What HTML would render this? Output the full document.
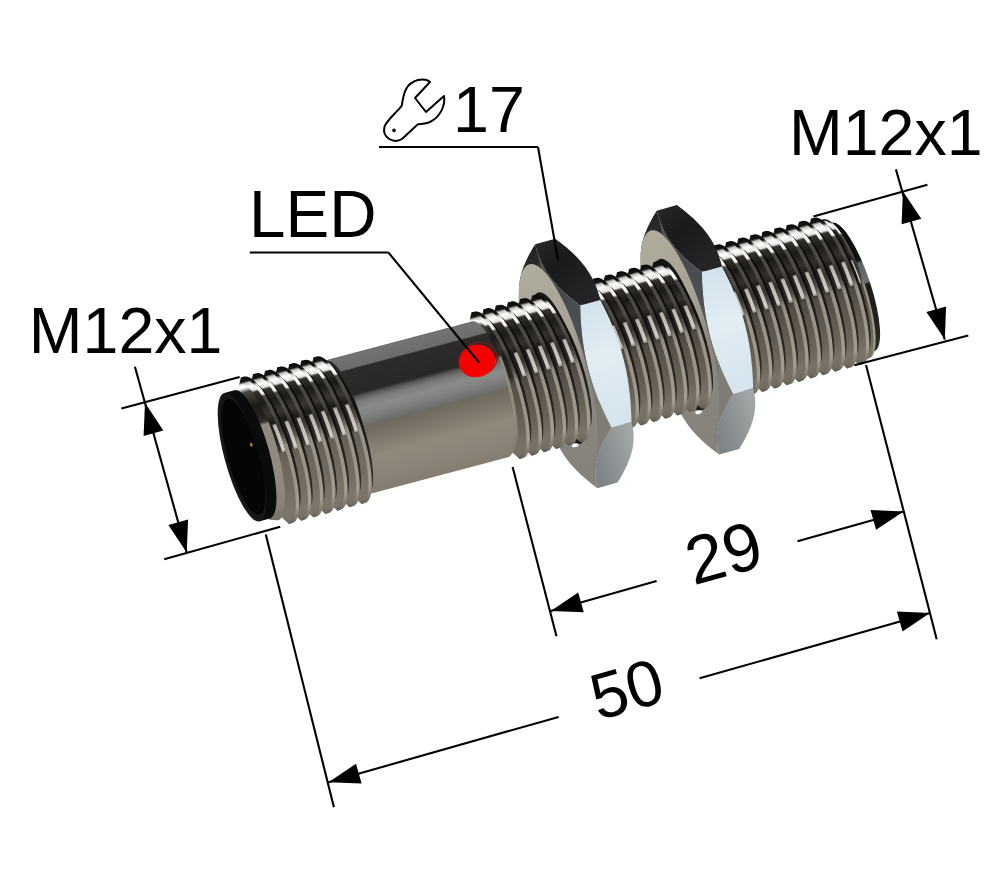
<!DOCTYPE html>
<html><head><meta charset="utf-8"><title>Sensor M12x1</title>
<style>
html,body{margin:0;padding:0;background:#fff;}
body{width:1000px;height:888px;overflow:hidden;font-family:"Liberation Sans",sans-serif;}
svg{display:block}
svg text{font-family:"Liberation Sans",sans-serif;fill:#000}
</style></head><body>
<svg width="1000" height="888" viewBox="0 0 1000 888">
<defs>
<linearGradient id="gL" gradientUnits="userSpaceOnUse" x1="0" y1="-77" x2="0" y2="77"><stop offset="0" stop-color="#0e0d0c"/><stop offset="0.03" stop-color="#161412"/><stop offset="0.045" stop-color="#c9c6c1"/><stop offset="0.07" stop-color="#ffffff"/><stop offset="0.1" stop-color="#e8e5e0"/><stop offset="0.115" stop-color="#33302d"/><stop offset="0.19" stop-color="#1c1a18"/><stop offset="0.275" stop-color="#34312d"/><stop offset="0.33" stop-color="#1e1c1a"/><stop offset="0.4" stop-color="#262320"/><stop offset="0.47" stop-color="#2e2a27"/><stop offset="0.49" stop-color="#3f3a34"/><stop offset="0.515" stop-color="#514b43"/><stop offset="0.65" stop-color="#5d574e"/><stop offset="0.8" stop-color="#696359"/><stop offset="0.925" stop-color="#787267"/><stop offset="0.975" stop-color="#726c61"/><stop offset="1" stop-color="#5c564c"/></linearGradient>
<linearGradient id="gL2" gradientUnits="userSpaceOnUse" x1="0" y1="-77" x2="0" y2="77"><stop offset="0" stop-color="#0e0d0c"/><stop offset="0.03" stop-color="#161412"/><stop offset="0.045" stop-color="#c9c6c1"/><stop offset="0.07" stop-color="#ffffff"/><stop offset="0.1" stop-color="#e8e5e0"/><stop offset="0.115" stop-color="#33302d"/><stop offset="0.19" stop-color="#1c1a18"/><stop offset="0.275" stop-color="#3a3733"/><stop offset="0.33" stop-color="#1e1c1a"/><stop offset="0.4" stop-color="#262320"/><stop offset="0.47" stop-color="#2e2a27"/><stop offset="0.52" stop-color="#3a3632"/><stop offset="0.545" stop-color="#645e55"/><stop offset="0.65" stop-color="#6d675e"/><stop offset="0.8" stop-color="#736d63"/><stop offset="0.925" stop-color="#7c766b"/><stop offset="0.975" stop-color="#777166"/><stop offset="1" stop-color="#625c52"/></linearGradient>
<linearGradient id="gL3" gradientUnits="userSpaceOnUse" x1="0" y1="-77" x2="0" y2="77"><stop offset="0" stop-color="#1a1816"/><stop offset="0.015" stop-color="#d8d6d2"/><stop offset="0.07" stop-color="#ffffff"/><stop offset="0.1" stop-color="#4a4642"/><stop offset="0.2" stop-color="#1c1a18"/><stop offset="0.275" stop-color="#24211e"/><stop offset="0.315" stop-color="#34302c"/><stop offset="0.335" stop-color="#8f887c"/><stop offset="0.65" stop-color="#938c80"/><stop offset="0.85" stop-color="#8a8377"/><stop offset="1" stop-color="#6f695e"/></linearGradient>
<linearGradient id="gH2" gradientUnits="userSpaceOnUse" x1="0" y1="-77" x2="0" y2="77"><stop offset="0" stop-color="#000"/><stop offset="0.345" stop-color="#5a564f"/><stop offset="0.36" stop-color="#b8b4ac"/><stop offset="0.52" stop-color="#cfccc5"/><stop offset="0.54" stop-color="#a7a197"/><stop offset="1" stop-color="#000"/></linearGradient>
<linearGradient id="gH" gradientUnits="userSpaceOnUse" x1="0" y1="-77" x2="0" y2="77"><stop offset="0" stop-color="#000"/><stop offset="0.32" stop-color="#5a564f"/><stop offset="0.335" stop-color="#b8b4ac"/><stop offset="0.47" stop-color="#cfccc5"/><stop offset="0.485" stop-color="#a7a197"/><stop offset="1" stop-color="#000"/></linearGradient>
<linearGradient id="gE" gradientUnits="userSpaceOnUse" x1="0" y1="-69.5" x2="0" y2="69.5"><stop offset="0" stop-color="#0a0908"/><stop offset="0.325" stop-color="#121110"/><stop offset="0.35" stop-color="#63656a"/><stop offset="0.49" stop-color="#6d6f73"/><stop offset="0.51" stop-color="#1c1a18"/><stop offset="0.8" stop-color="#26221e"/><stop offset="1" stop-color="#2e2a25"/></linearGradient>
<linearGradient id="gR" gradientUnits="userSpaceOnUse" x1="0" y1="-77" x2="0" y2="77"><stop offset="0" stop-color="#0a0908"/><stop offset="0.05" stop-color="#1c1a18"/><stop offset="0.15" stop-color="#0c0b0a"/><stop offset="0.4" stop-color="#121110"/><stop offset="0.5" stop-color="#1a1715"/><stop offset="0.65" stop-color="#26221e"/><stop offset="0.85" stop-color="#2e2a25"/><stop offset="1" stop-color="#3a352f"/></linearGradient>
<linearGradient id="gC" gradientUnits="userSpaceOnUse" x1="0" y1="-77" x2="0" y2="77"><stop offset="0" stop-color="#0c0b0a"/><stop offset="0.05" stop-color="#141210"/><stop offset="0.07" stop-color="#d8d6d2"/><stop offset="0.1" stop-color="#ffffff"/><stop offset="0.14" stop-color="#f0eeea"/><stop offset="0.155" stop-color="#4a4642"/><stop offset="0.275" stop-color="#4f4b45"/><stop offset="0.375" stop-color="#36322e"/><stop offset="0.44" stop-color="#55504a"/><stop offset="0.5" stop-color="#8f897d"/><stop offset="0.55" stop-color="#9a9488"/><stop offset="0.7" stop-color="#9a9488"/><stop offset="0.9" stop-color="#a59f92"/><stop offset="1" stop-color="#6f695e"/></linearGradient>
<linearGradient id="gB" gradientUnits="userSpaceOnUse" x1="0" y1="-70.3" x2="0" y2="70.3"><stop offset="0" stop-color="#5e5e5e"/><stop offset="0.01" stop-color="#747474"/><stop offset="0.1" stop-color="#6c6c6b"/><stop offset="0.11" stop-color="#2e2c2a"/><stop offset="0.285" stop-color="#2a2826"/><stop offset="0.31" stop-color="#5a5957"/><stop offset="0.345" stop-color="#7a7a78"/><stop offset="0.4" stop-color="#8b8b89"/><stop offset="0.47" stop-color="#7c7c7a"/><stop offset="0.515" stop-color="#6e6e6c"/><stop offset="0.5275" stop-color="#6f695e"/><stop offset="0.6" stop-color="#7a7367"/><stop offset="0.75" stop-color="#8f887b"/><stop offset="0.9" stop-color="#8a8377"/><stop offset="1" stop-color="#837c6f"/></linearGradient>
<linearGradient id="gNc2" gradientUnits="userSpaceOnUse" x1="0" y1="-126.2" x2="0" y2="126.2"><stop offset="0" stop-color="#6a665c"/><stop offset="0.1" stop-color="#59564e"/><stop offset="0.2" stop-color="#464a4f"/><stop offset="0.42" stop-color="#4e5258"/><stop offset="0.55" stop-color="#6e6c65"/><stop offset="0.62" stop-color="#7d7b73"/><stop offset="1" stop-color="#807e76"/></linearGradient>
<linearGradient id="gNd2" gradientUnits="userSpaceOnUse" x1="454.5" y1="-126.2" x2="494.5" y2="-63.1"><stop offset="0" stop-color="#2a2a2c"/><stop offset="0.5" stop-color="#1a1a1c"/><stop offset="1" stop-color="#242426"/></linearGradient>
<linearGradient id="gNb2" gradientUnits="userSpaceOnUse" x1="0" y1="-63.1" x2="0" y2="63.1"><stop offset="0" stop-color="#cfdfea"/><stop offset="0.5" stop-color="#e2edf3"/><stop offset="1" stop-color="#d5e4ee"/></linearGradient>
<linearGradient id="gNg2" gradientUnits="userSpaceOnUse" x1="466.5" y1="0" x2="506.5" y2="0"><stop offset="0" stop-color="#7f8486"/><stop offset="0.5" stop-color="#8f9496"/><stop offset="1" stop-color="#a1a6a6"/></linearGradient>
<linearGradient id="gNl2" gradientUnits="userSpaceOnUse" x1="0" y1="-126.2" x2="0" y2="126.2"><stop offset="0" stop-color="#1e1e20"/><stop offset="0.08" stop-color="#2c2c2e"/><stop offset="0.16" stop-color="#6a675e"/><stop offset="0.25" stop-color="#8d8a7e"/><stop offset="1" stop-color="#85837a"/></linearGradient>
<linearGradient id="gNf2" gradientUnits="userSpaceOnUse" x1="0" y1="-108.199" x2="0" y2="108.199"><stop offset="0" stop-color="#b0ad9d"/><stop offset="0.35" stop-color="#a5a293"/><stop offset="0.55" stop-color="#8d8a82"/><stop offset="1" stop-color="#84827b"/></linearGradient>
<linearGradient id="gNc1" gradientUnits="userSpaceOnUse" x1="0" y1="-126.2" x2="0" y2="126.2"><stop offset="0" stop-color="#6a665c"/><stop offset="0.1" stop-color="#59564e"/><stop offset="0.2" stop-color="#464a4f"/><stop offset="0.42" stop-color="#4e5258"/><stop offset="0.55" stop-color="#6e6c65"/><stop offset="0.62" stop-color="#7d7b73"/><stop offset="1" stop-color="#807e76"/></linearGradient>
<linearGradient id="gNd1" gradientUnits="userSpaceOnUse" x1="328.3" y1="-126.2" x2="368.3" y2="-63.1"><stop offset="0" stop-color="#2a2a2c"/><stop offset="0.5" stop-color="#1a1a1c"/><stop offset="1" stop-color="#242426"/></linearGradient>
<linearGradient id="gNb1" gradientUnits="userSpaceOnUse" x1="0" y1="-63.1" x2="0" y2="63.1"><stop offset="0" stop-color="#cfdfea"/><stop offset="0.5" stop-color="#e2edf3"/><stop offset="1" stop-color="#d5e4ee"/></linearGradient>
<linearGradient id="gNg1" gradientUnits="userSpaceOnUse" x1="340.3" y1="0" x2="380.3" y2="0"><stop offset="0" stop-color="#7f8486"/><stop offset="0.5" stop-color="#8f9496"/><stop offset="1" stop-color="#a1a6a6"/></linearGradient>
<linearGradient id="gNl1" gradientUnits="userSpaceOnUse" x1="0" y1="-126.2" x2="0" y2="126.2"><stop offset="0" stop-color="#1e1e20"/><stop offset="0.08" stop-color="#2c2c2e"/><stop offset="0.16" stop-color="#6a675e"/><stop offset="0.25" stop-color="#8d8a7e"/><stop offset="1" stop-color="#85837a"/></linearGradient>
<linearGradient id="gNf1" gradientUnits="userSpaceOnUse" x1="0" y1="-108.199" x2="0" y2="108.199"><stop offset="0" stop-color="#b0ad9d"/><stop offset="0.35" stop-color="#a5a293"/><stop offset="0.55" stop-color="#8d8a82"/><stop offset="1" stop-color="#84827b"/></linearGradient>
</defs>
<rect width="1000" height="888" fill="#fff"/>
<g transform="translate(241.7,456) rotate(-15.46)">
<!-- main thread right of nut2 -->
<g transform="skewX(2.75)">
<path d="M627.40,-73.00 L634.30,-67.50 A17.55,67.50 0 0 1 634.30,67.50 L627.40,73.00 Z" fill="url(#gE)" />
<path d="M625.20,-73.00 L627.40,-73.00 A18.98,73.00 0 0 1 627.40,73.00 L625.20,73.00 Z" fill="url(#gC)" />
<path d="M622.80,-69.50 L625.20,-73.00 A18.98,73.00 0 0 1 625.20,73.00 L622.80,69.50 Z" fill="url(#gL)" />
<path d="M640.51,-26.28 L640.80,-23.18 L641.05,-20.08 L641.26,-16.97 L641.43,-13.87 L641.57,-10.77 L641.68,-7.66 L641.74,-4.56 L641.78,-1.46" fill="none" stroke="url(#gH)" stroke-width="3"/>
</g>
<g transform="skewX(2.75)">
<path d="M619.26,-77.00 L623.75,-69.50 A18.07,69.50 0 0 1 623.75,69.50 L619.26,77.00 Z" fill="url(#gR)" />
<path d="M615.66,-77.00 L619.26,-77.00 A20.02,77.00 0 0 1 619.26,77.00 L615.66,77.00 Z" fill="url(#gC)" />
<path d="M611.17,-69.50 L615.66,-77.00 A20.02,77.00 0 0 1 615.66,77.00 L611.17,69.50 Z" fill="url(#gL)" />
<path d="M632.25,-27.00 L632.55,-23.81 L632.81,-20.62 L633.03,-17.44 L633.20,-14.25 L633.35,-11.06 L633.45,-7.87 L633.52,-4.69 L633.56,-1.50" fill="none" stroke="url(#gH)" stroke-width="3.8"/>
<path d="M606.68,-77.00 L611.17,-69.50 A18.07,69.50 0 0 1 611.17,69.50 L606.68,77.00 Z" fill="url(#gR)" />
<path d="M603.08,-77.00 L606.68,-77.00 A20.02,77.00 0 0 1 606.68,77.00 L603.08,77.00 Z" fill="url(#gC)" />
<path d="M598.59,-69.50 L603.08,-77.00 A20.02,77.00 0 0 1 603.08,77.00 L598.59,69.50 Z" fill="url(#gL)" />
<path d="M619.67,-27.00 L619.97,-23.81 L620.23,-20.62 L620.45,-17.44 L620.62,-14.25 L620.77,-11.06 L620.87,-7.87 L620.94,-4.69 L620.98,-1.50" fill="none" stroke="url(#gH)" stroke-width="3.8"/>
<path d="M594.10,-77.00 L598.59,-69.50 A18.07,69.50 0 0 1 598.59,69.50 L594.10,77.00 Z" fill="url(#gR)" />
<path d="M590.50,-77.00 L594.10,-77.00 A20.02,77.00 0 0 1 594.10,77.00 L590.50,77.00 Z" fill="url(#gC)" />
<path d="M586.01,-69.50 L590.50,-77.00 A20.02,77.00 0 0 1 590.50,77.00 L586.01,69.50 Z" fill="url(#gL)" />
<path d="M607.09,-27.00 L607.39,-23.81 L607.65,-20.62 L607.87,-17.44 L608.04,-14.25 L608.19,-11.06 L608.29,-7.87 L608.36,-4.69 L608.40,-1.50" fill="none" stroke="url(#gH)" stroke-width="3.8"/>
<path d="M581.52,-77.00 L586.01,-69.50 A18.07,69.50 0 0 1 586.01,69.50 L581.52,77.00 Z" fill="url(#gR)" />
<path d="M577.92,-77.00 L581.52,-77.00 A20.02,77.00 0 0 1 581.52,77.00 L577.92,77.00 Z" fill="url(#gC)" />
<path d="M573.43,-69.50 L577.92,-77.00 A20.02,77.00 0 0 1 577.92,77.00 L573.43,69.50 Z" fill="url(#gL)" />
<path d="M594.51,-27.00 L594.81,-23.81 L595.07,-20.62 L595.29,-17.44 L595.46,-14.25 L595.61,-11.06 L595.71,-7.87 L595.78,-4.69 L595.82,-1.50" fill="none" stroke="url(#gH)" stroke-width="3.8"/>
<path d="M568.94,-77.00 L573.43,-69.50 A18.07,69.50 0 0 1 573.43,69.50 L568.94,77.00 Z" fill="url(#gR)" />
<path d="M565.34,-77.00 L568.94,-77.00 A20.02,77.00 0 0 1 568.94,77.00 L565.34,77.00 Z" fill="url(#gC)" />
<path d="M560.85,-69.50 L565.34,-77.00 A20.02,77.00 0 0 1 565.34,77.00 L560.85,69.50 Z" fill="url(#gL)" />
<path d="M581.93,-27.00 L582.23,-23.81 L582.49,-20.62 L582.71,-17.44 L582.88,-14.25 L583.03,-11.06 L583.13,-7.87 L583.20,-4.69 L583.24,-1.50" fill="none" stroke="url(#gH)" stroke-width="3.8"/>
<path d="M556.36,-77.00 L560.85,-69.50 A18.07,69.50 0 0 1 560.85,69.50 L556.36,77.00 Z" fill="url(#gR)" />
<path d="M552.76,-77.00 L556.36,-77.00 A20.02,77.00 0 0 1 556.36,77.00 L552.76,77.00 Z" fill="url(#gC)" />
<path d="M548.27,-69.50 L552.76,-77.00 A20.02,77.00 0 0 1 552.76,77.00 L548.27,69.50 Z" fill="url(#gL)" />
<path d="M569.35,-27.00 L569.65,-23.81 L569.91,-20.62 L570.13,-17.44 L570.30,-14.25 L570.45,-11.06 L570.55,-7.87 L570.62,-4.69 L570.66,-1.50" fill="none" stroke="url(#gH)" stroke-width="3.8"/>
<path d="M543.78,-77.00 L548.27,-69.50 A18.07,69.50 0 0 1 548.27,69.50 L543.78,77.00 Z" fill="url(#gR)" />
<path d="M540.18,-77.00 L543.78,-77.00 A20.02,77.00 0 0 1 543.78,77.00 L540.18,77.00 Z" fill="url(#gC)" />
<path d="M535.69,-69.50 L540.18,-77.00 A20.02,77.00 0 0 1 540.18,77.00 L535.69,69.50 Z" fill="url(#gL)" />
<path d="M556.77,-27.00 L557.07,-23.81 L557.33,-20.62 L557.55,-17.44 L557.72,-14.25 L557.87,-11.06 L557.97,-7.87 L558.04,-4.69 L558.08,-1.50" fill="none" stroke="url(#gH)" stroke-width="3.8"/>
<path d="M531.20,-77.00 L535.69,-69.50 A18.07,69.50 0 0 1 535.69,69.50 L531.20,77.00 Z" fill="url(#gR)" />
<path d="M527.60,-77.00 L531.20,-77.00 A20.02,77.00 0 0 1 531.20,77.00 L527.60,77.00 Z" fill="url(#gC)" />
<path d="M523.11,-69.50 L527.60,-77.00 A20.02,77.00 0 0 1 527.60,77.00 L523.11,69.50 Z" fill="url(#gL)" />
<path d="M544.19,-27.00 L544.49,-23.81 L544.75,-20.62 L544.97,-17.44 L545.14,-14.25 L545.29,-11.06 L545.39,-7.87 L545.46,-4.69 L545.50,-1.50" fill="none" stroke="url(#gH)" stroke-width="3.8"/>
<path d="M518.62,-77.00 L523.11,-69.50 A18.07,69.50 0 0 1 523.11,69.50 L518.62,77.00 Z" fill="url(#gR)" />
<path d="M515.02,-77.00 L518.62,-77.00 A20.02,77.00 0 0 1 518.62,77.00 L515.02,77.00 Z" fill="url(#gC)" />
<path d="M510.53,-69.50 L515.02,-77.00 A20.02,77.00 0 0 1 515.02,77.00 L510.53,69.50 Z" fill="url(#gL)" />
<path d="M531.61,-27.00 L531.91,-23.81 L532.17,-20.62 L532.39,-17.44 L532.56,-14.25 L532.71,-11.06 L532.81,-7.87 L532.88,-4.69 L532.92,-1.50" fill="none" stroke="url(#gH)" stroke-width="3.8"/>
<path d="M506.04,-77.00 L510.53,-69.50 A18.07,69.50 0 0 1 510.53,69.50 L506.04,77.00 Z" fill="url(#gR)" />
<path d="M502.44,-77.00 L506.04,-77.00 A20.02,77.00 0 0 1 506.04,77.00 L502.44,77.00 Z" fill="url(#gC)" />
<path d="M497.95,-69.50 L502.44,-77.00 A20.02,77.00 0 0 1 502.44,77.00 L497.95,69.50 Z" fill="url(#gL)" />
<path d="M519.03,-27.00 L519.33,-23.81 L519.59,-20.62 L519.81,-17.44 L519.98,-14.25 L520.13,-11.06 L520.23,-7.87 L520.30,-4.69 L520.34,-1.50" fill="none" stroke="url(#gH)" stroke-width="3.8"/>
</g>
<path d="M465.42,-125.84 L465.37,-119.92 L465.67,-113.99 L466.35,-108.07 L467.45,-102.14 L469.01,-96.21 L471.03,-90.29 L473.52,-84.36 L476.49,-78.43 L479.90,-72.51 L483.74,-66.58 L487.96,-60.65 L492.53,-54.73 L513.41,-54.73 L513.46,-60.65 L513.16,-66.58 L512.48,-72.51 L511.37,-78.43 L509.82,-84.36 L507.80,-90.29 L505.30,-96.21 L502.34,-102.14 L498.93,-108.07 L495.09,-113.99 L490.87,-119.92 L486.30,-125.84 Z" fill="url(#gNd2)" />
<path d="M492.53,-54.73 L490.01,-44.24 L487.84,-33.75 L486.06,-23.27 L484.70,-12.78 L483.79,-2.29 L483.35,8.19 L483.38,18.68 L483.88,29.17 L484.83,39.66 L486.20,50.14 L487.96,60.63 L490.07,71.12 L510.95,71.12 L513.46,60.63 L515.63,50.14 L517.41,39.66 L518.77,29.17 L519.68,18.68 L520.12,8.19 L520.09,-2.29 L519.59,-12.78 L518.64,-23.27 L517.27,-33.75 L515.51,-44.24 L513.41,-54.73 Z" fill="url(#gNb2)" />
<path d="M490.07,71.12 L485.29,75.68 L480.87,80.24 L476.83,84.80 L473.21,89.36 L470.04,93.92 L467.34,98.48 L465.11,103.04 L463.35,107.60 L462.04,112.16 L461.15,116.72 L460.65,121.28 L460.50,125.84 L481.38,125.84 L486.15,121.28 L490.58,116.72 L494.62,112.16 L498.24,107.60 L501.41,103.04 L504.11,98.48 L506.34,93.92 L508.09,89.36 L509.40,84.80 L510.29,80.24 L510.79,75.68 L510.95,71.12 Z" fill="url(#gNg2)" />
<path d="M465.42,-125.84 L465.37,-119.92 L465.67,-113.99 L466.35,-108.07 L467.45,-102.14 L469.01,-96.21 L471.03,-90.29 L473.52,-84.36 L476.49,-78.43 L479.90,-72.51 L483.74,-66.58 L487.96,-60.65 L492.53,-54.73 L492.53,-54.73 L490.01,-44.24 L487.84,-33.75 L486.06,-23.27 L484.70,-12.78 L483.79,-2.29 L483.35,8.19 L483.38,18.68 L483.88,29.17 L484.83,39.66 L486.20,50.14 L487.96,60.63 L490.07,71.12 L490.07,71.12 L485.29,75.68 L480.87,80.24 L476.83,84.80 L473.21,89.36 L470.04,93.92 L467.34,98.48 L465.11,103.04 L463.35,107.60 L462.04,112.16 L461.15,116.72 L460.65,121.28 L460.50,125.84 L460.50,125.84 L455.93,119.92 L451.71,113.99 L447.87,108.07 L444.46,102.14 L441.50,96.21 L439.00,90.29 L436.98,84.36 L435.43,78.43 L434.32,72.51 L433.64,66.58 L433.34,60.65 L433.39,54.73 L433.39,54.73 L431.29,44.24 L429.53,33.75 L428.16,23.27 L427.21,12.78 L426.71,2.29 L426.68,-8.19 L427.12,-18.68 L428.03,-29.17 L429.39,-39.66 L431.17,-50.14 L433.34,-60.63 L435.85,-71.12 L435.85,-71.12 L436.01,-75.68 L436.51,-80.24 L437.40,-84.80 L438.71,-89.36 L440.46,-93.92 L442.69,-98.48 L445.39,-103.04 L448.56,-107.60 L452.18,-112.16 L456.22,-116.72 L460.65,-121.28 L465.42,-125.84 Z" fill="url(#gNl2)" />
<path d="M465.42,-125.84 L465.37,-119.92 L465.67,-113.99 L466.35,-108.07 L467.45,-102.14 L469.01,-96.21 L471.03,-90.29 L473.52,-84.36 L476.49,-78.43 L479.90,-72.51 L483.74,-66.58 L487.96,-60.65 L492.53,-54.73 L492.53,-54.73 L490.01,-44.24 L487.84,-33.75 L486.06,-23.27 L484.70,-12.78 L483.79,-2.29 L483.35,8.19 L483.38,18.68 L483.88,29.17 L484.83,39.66 L486.20,50.14 L487.96,60.63 L490.07,71.12 L490.07,71.12 L485.29,75.68 L480.87,80.24 L476.83,84.80 L473.21,89.36 L470.04,93.92 L467.34,98.48 L465.11,103.04 L463.35,107.60 L462.04,112.16 L461.15,116.72 L460.65,121.28 L460.50,125.84 Z" fill="url(#gNc2)" />
<ellipse cx="454.50" cy="0" rx="28.13" ry="108.20" fill="url(#gNf2)" />
<ellipse cx="455.50" cy="0" rx="20.41" ry="78.50" fill="#1a1816" />
<!-- thread between nuts -->
<g transform="skewX(2.75)">
<path d="M455.72,-77.00 L460.21,-69.50 A18.07,69.50 0 0 1 460.21,69.50 L455.72,77.00 Z" fill="url(#gR)" />
<path d="M452.12,-77.00 L455.72,-77.00 A20.02,77.00 0 0 1 455.72,77.00 L452.12,77.00 Z" fill="url(#gC)" />
<path d="M447.63,-69.50 L452.12,-77.00 A20.02,77.00 0 0 1 452.12,77.00 L447.63,69.50 Z" fill="url(#gL)" />
<path d="M468.71,-27.00 L469.01,-23.81 L469.27,-20.62 L469.49,-17.44 L469.66,-14.25 L469.81,-11.06 L469.91,-7.87 L469.98,-4.69 L470.02,-1.50" fill="none" stroke="url(#gH)" stroke-width="3.8"/>
<path d="M443.14,-77.00 L447.63,-69.50 A18.07,69.50 0 0 1 447.63,69.50 L443.14,77.00 Z" fill="url(#gR)" />
<path d="M439.54,-77.00 L443.14,-77.00 A20.02,77.00 0 0 1 443.14,77.00 L439.54,77.00 Z" fill="url(#gC)" />
<path d="M435.05,-69.50 L439.54,-77.00 A20.02,77.00 0 0 1 439.54,77.00 L435.05,69.50 Z" fill="url(#gL)" />
<path d="M456.13,-27.00 L456.43,-23.81 L456.69,-20.62 L456.91,-17.44 L457.08,-14.25 L457.23,-11.06 L457.33,-7.87 L457.40,-4.69 L457.44,-1.50" fill="none" stroke="url(#gH)" stroke-width="3.8"/>
<path d="M430.56,-77.00 L435.05,-69.50 A18.07,69.50 0 0 1 435.05,69.50 L430.56,77.00 Z" fill="url(#gR)" />
<path d="M426.96,-77.00 L430.56,-77.00 A20.02,77.00 0 0 1 430.56,77.00 L426.96,77.00 Z" fill="url(#gC)" />
<path d="M422.47,-69.50 L426.96,-77.00 A20.02,77.00 0 0 1 426.96,77.00 L422.47,69.50 Z" fill="url(#gL)" />
<path d="M443.55,-27.00 L443.85,-23.81 L444.11,-20.62 L444.33,-17.44 L444.50,-14.25 L444.65,-11.06 L444.75,-7.87 L444.82,-4.69 L444.86,-1.50" fill="none" stroke="url(#gH)" stroke-width="3.8"/>
<path d="M417.98,-77.00 L422.47,-69.50 A18.07,69.50 0 0 1 422.47,69.50 L417.98,77.00 Z" fill="url(#gR)" />
<path d="M414.38,-77.00 L417.98,-77.00 A20.02,77.00 0 0 1 417.98,77.00 L414.38,77.00 Z" fill="url(#gC)" />
<path d="M409.89,-69.50 L414.38,-77.00 A20.02,77.00 0 0 1 414.38,77.00 L409.89,69.50 Z" fill="url(#gL)" />
<path d="M430.97,-27.00 L431.27,-23.81 L431.53,-20.62 L431.75,-17.44 L431.92,-14.25 L432.07,-11.06 L432.17,-7.87 L432.24,-4.69 L432.28,-1.50" fill="none" stroke="url(#gH)" stroke-width="3.8"/>
<path d="M405.40,-77.00 L409.89,-69.50 A18.07,69.50 0 0 1 409.89,69.50 L405.40,77.00 Z" fill="url(#gR)" />
<path d="M401.80,-77.00 L405.40,-77.00 A20.02,77.00 0 0 1 405.40,77.00 L401.80,77.00 Z" fill="url(#gC)" />
<path d="M397.31,-69.50 L401.80,-77.00 A20.02,77.00 0 0 1 401.80,77.00 L397.31,69.50 Z" fill="url(#gL)" />
<path d="M418.39,-27.00 L418.69,-23.81 L418.95,-20.62 L419.17,-17.44 L419.34,-14.25 L419.49,-11.06 L419.59,-7.87 L419.66,-4.69 L419.70,-1.50" fill="none" stroke="url(#gH)" stroke-width="3.8"/>
<path d="M392.82,-77.00 L397.31,-69.50 A18.07,69.50 0 0 1 397.31,69.50 L392.82,77.00 Z" fill="url(#gR)" />
<path d="M389.22,-77.00 L392.82,-77.00 A20.02,77.00 0 0 1 392.82,77.00 L389.22,77.00 Z" fill="url(#gC)" />
<path d="M384.73,-69.50 L389.22,-77.00 A20.02,77.00 0 0 1 389.22,77.00 L384.73,69.50 Z" fill="url(#gL)" />
<path d="M405.81,-27.00 L406.11,-23.81 L406.37,-20.62 L406.59,-17.44 L406.76,-14.25 L406.91,-11.06 L407.01,-7.87 L407.08,-4.69 L407.12,-1.50" fill="none" stroke="url(#gH)" stroke-width="3.8"/>
<path d="M380.24,-77.00 L384.73,-69.50 A18.07,69.50 0 0 1 384.73,69.50 L380.24,77.00 Z" fill="url(#gR)" />
<path d="M376.64,-77.00 L380.24,-77.00 A20.02,77.00 0 0 1 380.24,77.00 L376.64,77.00 Z" fill="url(#gC)" />
<path d="M372.15,-69.50 L376.64,-77.00 A20.02,77.00 0 0 1 376.64,77.00 L372.15,69.50 Z" fill="url(#gL)" />
<path d="M393.23,-27.00 L393.53,-23.81 L393.79,-20.62 L394.01,-17.44 L394.18,-14.25 L394.33,-11.06 L394.43,-7.87 L394.50,-4.69 L394.54,-1.50" fill="none" stroke="url(#gH)" stroke-width="3.8"/>
</g>
<ellipse cx="452.04" cy="79.58" rx="3.4" ry="1.8" fill="#fff"/>
<path d="M339.22,-125.84 L339.17,-119.92 L339.47,-113.99 L340.15,-108.07 L341.25,-102.14 L342.81,-96.21 L344.83,-90.29 L347.32,-84.36 L350.29,-78.43 L353.70,-72.51 L357.54,-66.58 L361.76,-60.65 L366.33,-54.73 L387.21,-54.73 L387.26,-60.65 L386.96,-66.58 L386.28,-72.51 L385.17,-78.43 L383.62,-84.36 L381.60,-90.29 L379.10,-96.21 L376.14,-102.14 L372.73,-108.07 L368.89,-113.99 L364.67,-119.92 L360.10,-125.84 Z" fill="url(#gNd1)" />
<path d="M366.33,-54.73 L363.81,-44.24 L361.64,-33.75 L359.86,-23.27 L358.50,-12.78 L357.59,-2.29 L357.15,8.19 L357.18,18.68 L357.68,29.17 L358.63,39.66 L360.00,50.14 L361.76,60.63 L363.87,71.12 L384.75,71.12 L387.26,60.63 L389.43,50.14 L391.21,39.66 L392.57,29.17 L393.48,18.68 L393.92,8.19 L393.89,-2.29 L393.39,-12.78 L392.44,-23.27 L391.07,-33.75 L389.31,-44.24 L387.21,-54.73 Z" fill="url(#gNb1)" />
<path d="M363.87,71.12 L359.09,75.68 L354.67,80.24 L350.63,84.80 L347.01,89.36 L343.84,93.92 L341.14,98.48 L338.91,103.04 L337.15,107.60 L335.84,112.16 L334.95,116.72 L334.45,121.28 L334.30,125.84 L355.18,125.84 L359.95,121.28 L364.38,116.72 L368.42,112.16 L372.04,107.60 L375.21,103.04 L377.91,98.48 L380.14,93.92 L381.89,89.36 L383.20,84.80 L384.09,80.24 L384.59,75.68 L384.75,71.12 Z" fill="url(#gNg1)" />
<path d="M339.22,-125.84 L339.17,-119.92 L339.47,-113.99 L340.15,-108.07 L341.25,-102.14 L342.81,-96.21 L344.83,-90.29 L347.32,-84.36 L350.29,-78.43 L353.70,-72.51 L357.54,-66.58 L361.76,-60.65 L366.33,-54.73 L366.33,-54.73 L363.81,-44.24 L361.64,-33.75 L359.86,-23.27 L358.50,-12.78 L357.59,-2.29 L357.15,8.19 L357.18,18.68 L357.68,29.17 L358.63,39.66 L360.00,50.14 L361.76,60.63 L363.87,71.12 L363.87,71.12 L359.09,75.68 L354.67,80.24 L350.63,84.80 L347.01,89.36 L343.84,93.92 L341.14,98.48 L338.91,103.04 L337.15,107.60 L335.84,112.16 L334.95,116.72 L334.45,121.28 L334.30,125.84 L334.30,125.84 L329.73,119.92 L325.51,113.99 L321.67,108.07 L318.26,102.14 L315.30,96.21 L312.80,90.29 L310.78,84.36 L309.23,78.43 L308.12,72.51 L307.44,66.58 L307.14,60.65 L307.19,54.73 L307.19,54.73 L305.09,44.24 L303.33,33.75 L301.96,23.27 L301.01,12.78 L300.51,2.29 L300.48,-8.19 L300.92,-18.68 L301.83,-29.17 L303.19,-39.66 L304.97,-50.14 L307.14,-60.63 L309.65,-71.12 L309.65,-71.12 L309.81,-75.68 L310.31,-80.24 L311.20,-84.80 L312.51,-89.36 L314.26,-93.92 L316.49,-98.48 L319.19,-103.04 L322.36,-107.60 L325.98,-112.16 L330.02,-116.72 L334.45,-121.28 L339.22,-125.84 Z" fill="url(#gNl1)" />
<path d="M339.22,-125.84 L339.17,-119.92 L339.47,-113.99 L340.15,-108.07 L341.25,-102.14 L342.81,-96.21 L344.83,-90.29 L347.32,-84.36 L350.29,-78.43 L353.70,-72.51 L357.54,-66.58 L361.76,-60.65 L366.33,-54.73 L366.33,-54.73 L363.81,-44.24 L361.64,-33.75 L359.86,-23.27 L358.50,-12.78 L357.59,-2.29 L357.15,8.19 L357.18,18.68 L357.68,29.17 L358.63,39.66 L360.00,50.14 L361.76,60.63 L363.87,71.12 L363.87,71.12 L359.09,75.68 L354.67,80.24 L350.63,84.80 L347.01,89.36 L343.84,93.92 L341.14,98.48 L338.91,103.04 L337.15,107.60 L335.84,112.16 L334.95,116.72 L334.45,121.28 L334.30,125.84 Z" fill="url(#gNc1)" />
<ellipse cx="328.30" cy="0" rx="28.13" ry="108.20" fill="url(#gNf1)" />
<ellipse cx="329.30" cy="0" rx="20.41" ry="78.50" fill="#1a1816" />
<!-- thread left of nut1 -->
<g transform="skewX(2.75)">
<path d="M329.92,-77.00 L334.41,-69.50 A18.07,69.50 0 0 1 334.41,69.50 L329.92,77.00 Z" fill="url(#gR)" />
<path d="M326.32,-77.00 L329.92,-77.00 A20.02,77.00 0 0 1 329.92,77.00 L326.32,77.00 Z" fill="url(#gC)" />
<path d="M321.83,-69.50 L326.32,-77.00 A20.02,77.00 0 0 1 326.32,77.00 L321.83,69.50 Z" fill="url(#gL)" />
<path d="M342.91,-27.00 L343.21,-23.81 L343.47,-20.62 L343.69,-17.44 L343.86,-14.25 L344.01,-11.06 L344.11,-7.87 L344.18,-4.69 L344.22,-1.50" fill="none" stroke="url(#gH)" stroke-width="3.8"/>
<path d="M317.34,-77.00 L321.83,-69.50 A18.07,69.50 0 0 1 321.83,69.50 L317.34,77.00 Z" fill="url(#gR)" />
<path d="M313.74,-77.00 L317.34,-77.00 A20.02,77.00 0 0 1 317.34,77.00 L313.74,77.00 Z" fill="url(#gC)" />
<path d="M309.25,-69.50 L313.74,-77.00 A20.02,77.00 0 0 1 313.74,77.00 L309.25,69.50 Z" fill="url(#gL)" />
<path d="M330.33,-27.00 L330.63,-23.81 L330.89,-20.62 L331.11,-17.44 L331.28,-14.25 L331.43,-11.06 L331.53,-7.87 L331.60,-4.69 L331.64,-1.50" fill="none" stroke="url(#gH)" stroke-width="3.8"/>
<path d="M304.76,-77.00 L309.25,-69.50 A18.07,69.50 0 0 1 309.25,69.50 L304.76,77.00 Z" fill="url(#gR)" />
<path d="M301.16,-77.00 L304.76,-77.00 A20.02,77.00 0 0 1 304.76,77.00 L301.16,77.00 Z" fill="url(#gC)" />
<path d="M296.67,-69.50 L301.16,-77.00 A20.02,77.00 0 0 1 301.16,77.00 L296.67,69.50 Z" fill="url(#gL)" />
<path d="M317.75,-27.00 L318.05,-23.81 L318.31,-20.62 L318.53,-17.44 L318.70,-14.25 L318.85,-11.06 L318.95,-7.87 L319.02,-4.69 L319.06,-1.50" fill="none" stroke="url(#gH)" stroke-width="3.8"/>
<path d="M292.18,-77.00 L296.67,-69.50 A18.07,69.50 0 0 1 296.67,69.50 L292.18,77.00 Z" fill="url(#gR)" />
<path d="M288.58,-77.00 L292.18,-77.00 A20.02,77.00 0 0 1 292.18,77.00 L288.58,77.00 Z" fill="url(#gC)" />
<path d="M284.09,-69.50 L288.58,-77.00 A20.02,77.00 0 0 1 288.58,77.00 L284.09,69.50 Z" fill="url(#gL)" />
<path d="M305.17,-27.00 L305.47,-23.81 L305.73,-20.62 L305.95,-17.44 L306.12,-14.25 L306.27,-11.06 L306.37,-7.87 L306.44,-4.69 L306.48,-1.50" fill="none" stroke="url(#gH)" stroke-width="3.8"/>
<path d="M279.60,-77.00 L284.09,-69.50 A18.07,69.50 0 0 1 284.09,69.50 L279.60,77.00 Z" fill="url(#gR)" />
<path d="M276.00,-77.00 L279.60,-77.00 A20.02,77.00 0 0 1 279.60,77.00 L276.00,77.00 Z" fill="url(#gC)" />
<path d="M271.51,-69.50 L276.00,-77.00 A20.02,77.00 0 0 1 276.00,77.00 L271.51,69.50 Z" fill="url(#gL)" />
<path d="M292.59,-27.00 L292.89,-23.81 L293.15,-20.62 L293.37,-17.44 L293.54,-14.25 L293.69,-11.06 L293.79,-7.87 L293.86,-4.69 L293.90,-1.50" fill="none" stroke="url(#gH)" stroke-width="3.8"/>
</g>
<g transform="skewX(2.75)">
<path d="M267.02,-77.00 L271.51,-69.50 A18.07,69.50 0 0 1 271.51,69.50 L267.02,77.00 Z" fill="url(#gR)" />
<path d="M263.42,-77.00 L267.02,-77.00 A20.02,77.00 0 0 1 267.02,77.00 L263.42,77.00 Z" fill="url(#gC)" />
<path d="M258.93,-69.50 L263.42,-77.00 A20.02,77.00 0 0 1 263.42,77.00 L258.93,69.50 Z" fill="url(#gL)" />
</g>
<ellipse cx="324.29" cy="78.59" rx="3.4" ry="1.8" fill="#fff"/>
<path d="M255.00,-70.30 L260.00,-69.50 A18.07,69.50 0 0 1 260.00,69.50 L255.00,70.30 Z" fill="url(#gL3)" />
<!-- smooth body -->
<g transform="translate(0,1.2)">
<g transform="rotate(0.6 185 0)">
<path d="M106.00,-70.30 L257.00,-70.30 A18.28,70.30 0 0 1 257.00,70.30 L106.00,70.30 Z" fill="url(#gB)" />
</g>
<ellipse cx="252.04" cy="-30.10" rx="18.4" ry="16.2" fill="none" stroke="#8a1a14" stroke-width="1" transform="translate(2.5,-1.5)"/>
<ellipse cx="252.04" cy="-30.10" rx="18.4" ry="16.2" fill="#f60000"/>
<!-- left thread -->
<path d="M101.00,-69.50 L107.00,-70.30 A18.28,70.30 0 0 1 107.00,70.30 L101.00,69.50 Z" fill="#2a2826" />
<g transform="skewX(2.75)">
<path d="M102.70,-77.00 L107.18,-69.50 A18.07,69.50 0 0 1 107.18,69.50 L102.70,77.00 Z" fill="url(#gR)" />
<path d="M99.10,-77.00 L102.70,-77.00 A20.02,77.00 0 0 1 102.70,77.00 L99.10,77.00 Z" fill="url(#gC)" />
<path d="M94.62,-69.50 L99.10,-77.00 A20.02,77.00 0 0 1 99.10,77.00 L94.62,69.50 Z" fill="url(#gL2)" />
<path d="M116.04,-23.25 L116.32,-19.59 L116.55,-15.94 L116.74,-12.28 L116.87,-8.62 L116.96,-4.97 L117.00,-1.31 L116.99,2.34 L116.94,6.00" fill="none" stroke="url(#gH2)" stroke-width="3.8"/>
<path d="M90.15,-77.00 L94.62,-69.50 A18.07,69.50 0 0 1 94.62,69.50 L90.15,77.00 Z" fill="url(#gR)" />
<path d="M86.55,-77.00 L90.15,-77.00 A20.02,77.00 0 0 1 90.15,77.00 L86.55,77.00 Z" fill="url(#gC)" />
<path d="M82.07,-69.50 L86.55,-77.00 A20.02,77.00 0 0 1 86.55,77.00 L82.07,69.50 Z" fill="url(#gL2)" />
<path d="M103.49,-23.25 L103.77,-19.59 L104.00,-15.94 L104.19,-12.28 L104.32,-8.62 L104.41,-4.97 L104.45,-1.31 L104.44,2.34 L104.39,6.00" fill="none" stroke="url(#gH2)" stroke-width="3.8"/>
<path d="M77.60,-77.00 L82.08,-69.50 A18.07,69.50 0 0 1 82.08,69.50 L77.60,77.00 Z" fill="url(#gR)" />
<path d="M74.00,-77.00 L77.60,-77.00 A20.02,77.00 0 0 1 77.60,77.00 L74.00,77.00 Z" fill="url(#gC)" />
<path d="M69.53,-69.50 L74.00,-77.00 A20.02,77.00 0 0 1 74.00,77.00 L69.53,69.50 Z" fill="url(#gL2)" />
<path d="M90.94,-23.25 L91.22,-19.59 L91.45,-15.94 L91.64,-12.28 L91.77,-8.62 L91.86,-4.97 L91.90,-1.31 L91.89,2.34 L91.84,6.00" fill="none" stroke="url(#gH2)" stroke-width="3.8"/>
<path d="M65.05,-77.00 L69.53,-69.50 A18.07,69.50 0 0 1 69.53,69.50 L65.05,77.00 Z" fill="url(#gR)" />
<path d="M61.45,-77.00 L65.05,-77.00 A20.02,77.00 0 0 1 65.05,77.00 L61.45,77.00 Z" fill="url(#gC)" />
<path d="M56.98,-69.50 L61.45,-77.00 A20.02,77.00 0 0 1 61.45,77.00 L56.98,69.50 Z" fill="url(#gL2)" />
<path d="M78.39,-23.25 L78.67,-19.59 L78.90,-15.94 L79.09,-12.28 L79.22,-8.62 L79.31,-4.97 L79.35,-1.31 L79.34,2.34 L79.29,6.00" fill="none" stroke="url(#gH2)" stroke-width="3.8"/>
<path d="M52.50,-77.00 L56.98,-69.50 A18.07,69.50 0 0 1 56.98,69.50 L52.50,77.00 Z" fill="url(#gR)" />
<path d="M48.90,-77.00 L52.50,-77.00 A20.02,77.00 0 0 1 52.50,77.00 L48.90,77.00 Z" fill="url(#gC)" />
<path d="M44.43,-69.50 L48.90,-77.00 A20.02,77.00 0 0 1 48.90,77.00 L44.43,69.50 Z" fill="url(#gL2)" />
<path d="M65.84,-23.25 L66.12,-19.59 L66.35,-15.94 L66.54,-12.28 L66.67,-8.62 L66.76,-4.97 L66.80,-1.31 L66.79,2.34 L66.74,6.00" fill="none" stroke="url(#gH2)" stroke-width="3.8"/>
<path d="M39.95,-77.00 L44.43,-69.50 A18.07,69.50 0 0 1 44.43,69.50 L39.95,77.00 Z" fill="url(#gR)" />
<path d="M36.35,-77.00 L39.95,-77.00 A20.02,77.00 0 0 1 39.95,77.00 L36.35,77.00 Z" fill="url(#gC)" />
<path d="M31.88,-69.50 L36.35,-77.00 A20.02,77.00 0 0 1 36.35,77.00 L31.88,69.50 Z" fill="url(#gL2)" />
<path d="M53.29,-23.25 L53.57,-19.59 L53.80,-15.94 L53.99,-12.28 L54.12,-8.62 L54.21,-4.97 L54.25,-1.31 L54.24,2.34 L54.19,6.00" fill="none" stroke="url(#gH2)" stroke-width="3.8"/>
<path d="M27.40,-77.00 L31.88,-69.50 A18.07,69.50 0 0 1 31.88,69.50 L27.40,77.00 Z" fill="url(#gR)" />
<path d="M23.80,-77.00 L27.40,-77.00 A20.02,77.00 0 0 1 27.40,77.00 L23.80,77.00 Z" fill="url(#gC)" />
<path d="M19.33,-69.50 L23.80,-77.00 A20.02,77.00 0 0 1 23.80,77.00 L19.33,69.50 Z" fill="url(#gL2)" />
<path d="M40.74,-23.25 L41.02,-19.59 L41.25,-15.94 L41.44,-12.28 L41.57,-8.62 L41.66,-4.97 L41.70,-1.31 L41.69,2.34 L41.64,6.00" fill="none" stroke="url(#gH2)" stroke-width="3.8"/>
</g>
<path d="M9.50,-67.50 L18.00,-70.50 A18.33,70.50 0 0 1 18.00,70.50 L9.50,67.50 Z" fill="url(#gL3)" />
<!-- black insert -->
<path d="M0.00,-66.50 L10.50,-66.50 A17.29,66.50 0 0 1 10.50,66.50 L0.00,66.50 Z" fill="#0b0b0c" />
<ellipse cx="0.00" cy="0" rx="17.29" ry="66.50" fill="#161617" />
<ellipse cx="1.50" cy="0" rx="15.60" ry="60.00" fill="#050506" />
<ellipse cx="12.30" cy="-9.57" rx="1.2" ry="2" fill="#b8901a"/>
</g>
</g>
<g>
<line x1="121.4" y1="408.4" x2="239.6" y2="376.9" stroke="#000" stroke-width="2.1"/>
<line x1="164.2" y1="559.3" x2="280.2" y2="526.7" stroke="#000" stroke-width="2.1"/>
<line x1="134.9" y1="366.8" x2="186.7" y2="552.6" stroke="#000" stroke-width="2.1"/>
<polygon points="145.0,402.8 163.3,430.4 143.6,435.9" fill="#000"/>
<polygon points="186.7,552.6 168.4,525.0 188.1,519.5" fill="#000"/>
<line x1="813.4" y1="216.5" x2="927.4" y2="184.8" stroke="#000" stroke-width="2.1"/>
<line x1="854.3" y1="365.2" x2="968.3" y2="335.4" stroke="#000" stroke-width="2.1"/>
<line x1="895.9" y1="169.4" x2="944.8" y2="339.6" stroke="#000" stroke-width="2.1"/>
<polygon points="902.9,191.2 921.3,218.7 901.6,224.3" fill="#000"/>
<polygon points="944.8,339.6 926.4,312.1 946.1,306.5" fill="#000"/>
<line x1="265.8" y1="534.6" x2="333.9" y2="807.2" stroke="#000" stroke-width="2.1"/>
<line x1="512.6" y1="467.0" x2="556.5" y2="636.2" stroke="#000" stroke-width="2.1"/>
<line x1="866.0" y1="365.0" x2="936.7" y2="639.2" stroke="#000" stroke-width="2.1"/>
<line x1="550.7" y1="610.9" x2="656.6" y2="581.0" stroke="#000" stroke-width="2.1"/>
<line x1="797.5" y1="541.3" x2="903.6" y2="511.4" stroke="#000" stroke-width="2.1"/>
<polygon points="550.7,610.9 578.2,592.5 583.8,612.2" fill="#000"/>
<polygon points="903.6,511.4 876.1,529.8 870.5,510.1" fill="#000"/>
<line x1="328.5" y1="782.2" x2="558.6" y2="716.9" stroke="#000" stroke-width="2.1"/>
<line x1="699.6" y1="678.3" x2="930.0" y2="612.9" stroke="#000" stroke-width="2.1"/>
<polygon points="328.5,782.2 356.0,763.7 361.6,783.5" fill="#000"/>
<polygon points="930.0,612.9 902.5,631.4 896.9,611.6" fill="#000"/>
<line x1="249.8" y1="252.5" x2="388.4" y2="252.5" stroke="#000" stroke-width="2.1"/>
<line x1="388.4" y1="252.5" x2="479.0" y2="362.5" stroke="#000" stroke-width="2.1"/>
<line x1="379.0" y1="147.0" x2="538.0" y2="147.0" stroke="#000" stroke-width="2.1"/>
<line x1="538.0" y1="147.0" x2="558.0" y2="260.0" stroke="#000" stroke-width="2.1"/>
<text x="0" y="0" font-size="64.5" text-anchor="start" transform="translate(28.8 352.8)">M12x1</text>
<text x="0" y="0" font-size="64.5" text-anchor="start" transform="translate(789.0 154.6)">M12x1</text>
<text x="0" y="0" font-size="66.2" text-anchor="start" transform="translate(249.0 236.9) scale(0.99 1)">LED</text>
<text x="0" y="0" font-size="65.5" text-anchor="start" transform="translate(453.0 132.3) scale(0.985 1)">17</text>
<text x="0" y="0" font-size="68" text-anchor="middle" transform="translate(730.0 575.5) rotate(-15.5)">29</text>
<text x="0" y="0" font-size="65" text-anchor="middle" transform="translate(633.0 710.5) rotate(-16)">50</text>
<path d="M418.0,80.0 C423.0,79.0 428.0,80.0 430.0,82.0 L415.0,98.0 L426.0,112.0 L444.0,96.0 C445.6,106.0 440.0,117.0 430.0,122.0 C425.0,124.4 420.0,123.6 417.6,124.4 L402.0,139.0 C394.0,144.0 382.0,138.0 384.4,127.0 C386.0,121.0 396.0,113.0 401.6,106.0 C403.6,98.0 403.0,84.0 418.0,80.0 Z" fill="#fff" stroke="#000" stroke-width="2" stroke-linejoin="round"/>
<circle cx="394.0" cy="130.4" r="1.8" fill="#000"/>
</g>
</svg>
</body></html>
